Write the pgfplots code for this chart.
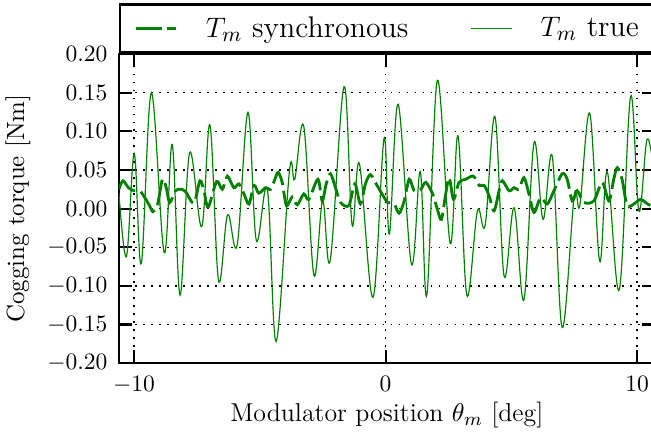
\documentclass[border=0pt]{standalone}
\usepackage{pgfplots}
\pgfplotsset{compat=1.18}
\definecolor{mplgreen}{RGB}{0,128,0}
\begin{document}
\begin{tikzpicture}
\useasboundingbox (-50.6pt,-31pt) rectangle (226.4pt,154.5pt);
\clip (-50.6pt,-31pt) rectangle (226.4pt,154.5pt);
\begin{axis}[
  scale only axis,
  width=228pt, height=131.5pt,
  xmin=-10.6, xmax=10.7,
  ymin=-0.2, ymax=0.2,
  xtick={-10,0,10},
  ytick={-0.2,-0.15,-0.1,-0.05,0,0.05,0.1,0.15,0.2},
  yticklabel style={/pgf/number format/fixed,/pgf/number format/fixed zerofill,/pgf/number format/precision=2, xshift=-1.4pt},
  xticklabel style={yshift=-2.2pt},
  tick label style={font=\fontsize{10}{12}\selectfont},
  axis line style={line width=1.1pt},
  tick style={line width=0.9pt, black},
  major tick length=5.5pt,
  tick align=inside,
  grid=major,
  major grid style={black, line width=0.6pt, dash pattern=on 0.8pt off 2.6pt},
  xlabel={Modulator position $\theta_m$ [deg]},
  ylabel={Cogging torque [Nm]},
  xlabel style={font=\fontsize{11}{13}\selectfont, at={(axis description cs:0.5,0)}, anchor=center, yshift=-22pt},
  ylabel style={font=\fontsize{10.6}{13}\selectfont, at={(axis description cs:0,0.5)}, anchor=center, yshift=43pt},
  legend columns=2,
  legend style={at={(0,1)}, anchor=south west, draw=black, line width=1.1pt,
    font=\fontsize{12.7}{15}\selectfont, inner xsep=6pt, inner ysep=3.1pt,
    /tikz/every even column/.append style={column sep=24.5pt},
    /tikz/every odd column/.append style={column sep=10.2pt}},
  legend cell align=left,
]
\addplot[mplgreen, line width=1.2pt, dash pattern=on 11pt off 2.5pt, smooth, tension=0.5] coordinates {
(-10.60,0.025) (-10.44,0.036) (-10.22,0.027) (-10.0,0.023) (-9.74,0.022) (-9.40,0.005)
(-9.25,-0.004) (-9.07,0.004) (-8.87,0.038) (-8.72,0.027) (-8.58,0.008) (-8.35,0.023)
(-8.15,0.025) (-7.95,0.022) (-7.62,0.007) (-7.38,0.036) (-7.22,0.023) (-7.05,0.002)
(-6.72,0.035) (-6.49,0.025) (-6.29,0.042) (-6.03,0.027) (-5.83,0.032) (-5.63,0.019)
(-5.43,0.006) (-5.23,0.030) (-5.04,0.020) (-4.77,0.027) (-4.57,0.025) (-4.40,0.038)
(-4.27,0.047) (-4.11,0.034) (-3.94,0.004) (-3.71,0.015) (-3.51,0.005) (-3.25,0.019)
(-3.05,0.012) (-2.69,0.038) (-2.52,0.010) (-2.36,0.032) (-2.19,0.045) (-1.99,0.027)
(-1.79,0.008) (-1.46,0.004) (-1.22,0.032) (-1.00,0.006) (-0.80,0.032) (-0.60,0.044)
(-0.34,0.030) (-0.14,0.019) (0.08,0.008) (0.34,0.006) (0.54,-0.006) (0.74,0.010)
(0.94,0.038) (1.14,0.023) (1.40,0.025) (1.60,0.034) (1.87,0.019) (2.06,-0.001)
(2.22,-0.014) (2.39,0.019) (2.53,0.040) (2.70,0.012) (2.92,0.034) (3.19,0.038)
(3.49,0.042) (3.72,0.030) (3.92,0.030) (4.11,0.017) (4.31,-0.003) (4.51,0.023)
(4.64,0.036) (4.91,0.023) (5.11,0.027) (5.30,0.025) (5.50,0.040) (5.70,0.019)
(5.90,-0.005) (6.16,0.014) (6.43,0.006) (6.69,0.023) (7.02,0.045) (7.22,0.038)
(7.42,0.010) (7.62,0.023) (7.88,0.008) (8.28,0.010) (8.61,0.034) (8.88,0.010)
(9.07,0.038) (9.21,0.053) (9.40,0.038) (9.60,0.004) (9.87,0.006) (10.13,0.012)
(10.33,0.008) (10.53,0.004) (10.70,0.006)
};
\addlegendentry{$T_m$ synchronous}
\addplot[mplgreen, line width=0.5pt, smooth, tension=0.6] coordinates {
(-10.60,0.020) (-10.30,-0.062) (-9.99,0.071) (-9.71,-0.071) (-9.31,0.150) (-8.80,-0.057)
(-8.48,0.083) (-8.17,-0.112) (-7.79,0.072) (-7.31,-0.0235) (-6.98,0.108) (-6.64,-0.093)
(-6.28,-0.008) (-5.90,-0.047) (-5.47,0.1245) (-5.14,-0.041) (-4.70,0.025) (-4.35,-0.172)
(-3.82,0.049) (-3.61,0.038) (-3.25,0.106) (-2.85,-0.086) (-2.50,0.010) (-2.20,-0.067)
(-1.65,0.158) (-1.33,-0.021) (-1.04,0.058) (-0.50,-0.115) (-0.06,0.091) (0.15,-0.033)
(0.50,0.135) (1.03,-0.072) (1.38,0.048) (1.64,-0.112) (2.06,0.166) (2.57,-0.045)
(2.88,0.094) (3.23,-0.112) (3.65,-0.003) (3.96,-0.021) (4.35,0.119) (4.71,-0.087)
(5.11,0.001) (5.50,-0.118) (5.90,0.085) (6.26,-0.014) (6.63,0.067) (7.02,-0.154)
(7.50,0.017) (7.72,0.004) (8.12,0.123) (8.51,-0.068) (8.81,0.048) (9.29,-0.105)
(9.74,0.145) (10.07,-0.003) (10.40,0.090) (10.70,0.040)
};
\addlegendentry{$T_m$ true}
\end{axis}
\end{tikzpicture}
\end{document}
